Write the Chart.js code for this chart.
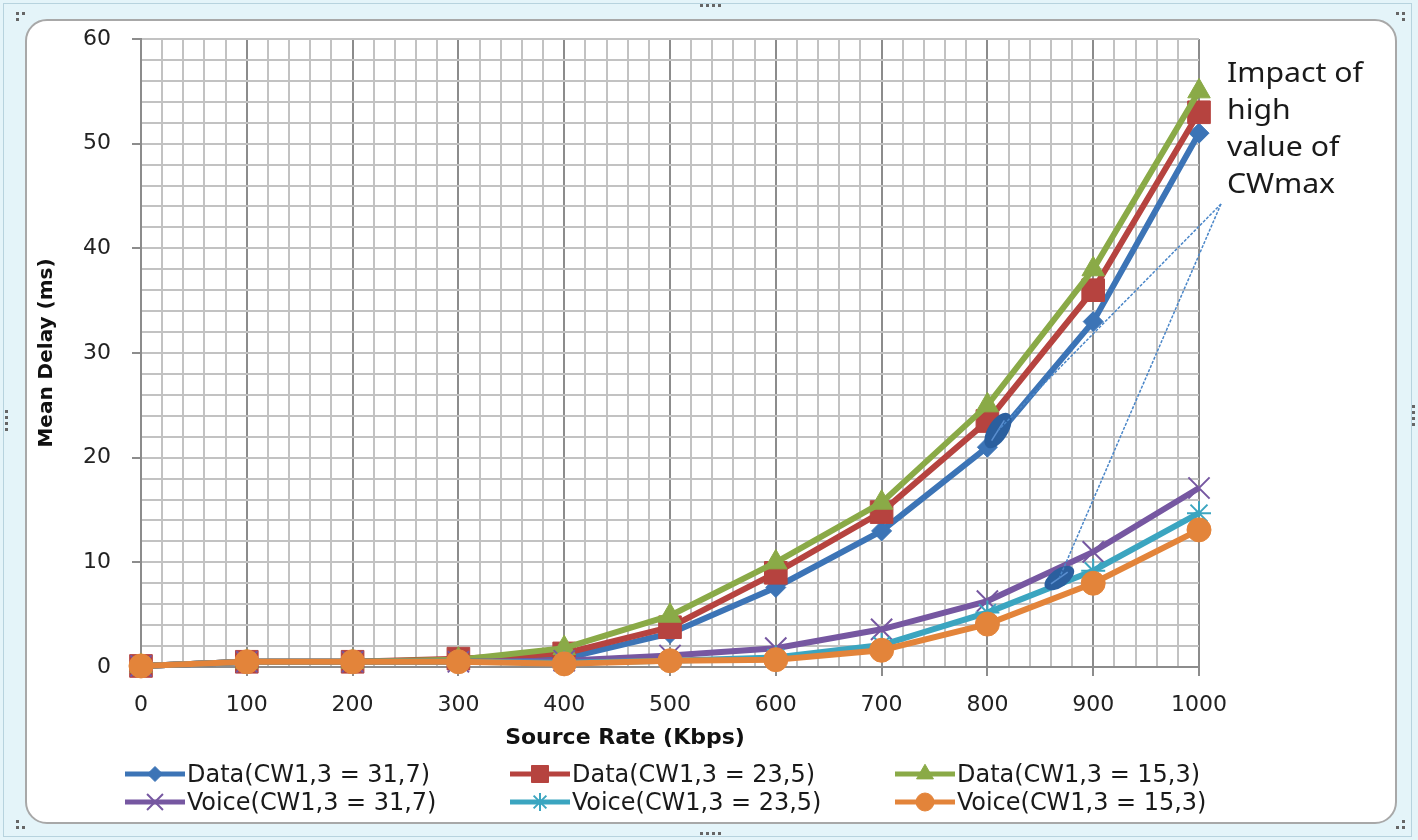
<!DOCTYPE html>
<html>
<head>
<meta charset="utf-8">
<script src="https://cdn.jsdelivr.net/npm/chart.js@4.4.1/dist/chart.umd.min.js"></script>
<style>
  html, body { margin: 0; padding: 0; width: 1418px; height: 840px; overflow: hidden; background: #e4f4f9; }
  .band { position: absolute; left: 3px; top: 3px; right: 6px; bottom: 3px; border: 1px solid #b7d3de; }
  .panel { position: absolute; left: 25px; top: 19px; width: 1368px; height: 801px;
           background: #fff; border: 2px solid #a8a8a8; border-radius: 22px; }
  .grip { position: absolute; width: 3px; height: 3px; background: #666; }
  canvas { position: absolute; left: 0; top: 0; }
</style>
</head>
<body>
<div class="band"></div>
<div class="panel"></div>
<div id="grips"></div>
<canvas id="chartDelay" width="1418" height="840"></canvas>
<script>
// Source rate (Kbps) on x, mean delay (ms) on y
const rates = [0, 100, 200, 300, 400, 500, 600, 700, 800, 900, 1000];
const dataCw31 = [0.1, 0.5, 0.5, 0.6, 0.8, 3.2, 7.6, 13.0, 21.0, 33.0, 51.0];
const dataCw23 = [0.1, 0.5, 0.5, 0.8, 1.3, 3.8, 9.0, 14.8, 23.5, 36.0, 53.0];
const dataCw15 = [0.1, 0.5, 0.5, 0.7, 1.8, 4.9, 10.0, 15.7, 25.0, 38.0, 55.0];
const voiceCw31 = [0.1, 0.5, 0.5, 0.5, 0.6, 1.1, 1.8, 3.6, 6.3, 11.0, 17.1];
const voiceCw23 = [0.1, 0.5, 0.5, 0.5, 0.4, 0.6, 0.9, 2.1, 5.2, 9.2, 14.7];
const voiceCw15 = [0.1, 0.5, 0.5, 0.5, 0.3, 0.6, 0.7, 1.6, 4.1, 8.0, 13.1];

const seriesLabels = ['Data(CW1,3 = 31,7)', 'Data(CW1,3 = 23,5)', 'Data(CW1,3 = 15,3)',
                      'Voice(CW1,3 = 31,7)', 'Voice(CW1,3 = 23,5)', 'Voice(CW1,3 = 15,3)'];
const xTickLabels = ['0', '100', '200', '300', '400', '500', '600', '700', '800', '900', '1000'];
const yTickLabels = ['0', '10', '20', '30', '40', '50', '60'];

// callout: marked spots in data units
const calloutText = ['Impact of', 'high', 'value of', 'CWmax'];
const calloutSpots = [{ x: 810, y: 22.6, rx: 20, ry: 10, rot: -58 }, { x: 868, y: 8.5, rx: 17, ry: 9, rot: -35 }];

const styles = [
    { color: '#3c74b6', point: 'rectRot', r: 10 },
    { color: '#b6433f', point: 'rect', r: 16 },
    { color: '#8aaa47', point: 'triangle', r: 13 },
    { color: '#7657a1', point: 'crossRot', r: 15 },
    { color: '#3ba5c0', point: 'star', r: 12 },
    { color: '#e3843a', point: 'circle', r: 12 }
];
const allSeries = [dataCw31, dataCw23, dataCw15, voiceCw31, voiceCw23, voiceCw15];

const datasets = allSeries.map((vals, i) => ({
    label: seriesLabels[i],
    data: rates.map((x, j) => ({ x: x, y: vals[j] })),
    borderColor: styles[i].color,
    backgroundColor: styles[i].color,
    borderWidth: 6,
    pointStyle: styles[i].point,
    pointRadius: styles[i].r,
    pointBorderWidth: (styles[i].point === 'crossRot' || styles[i].point === 'star') ? 2 : 1,
    pointBorderColor: styles[i].color,
    pointBackgroundColor: styles[i].color,
    tension: 0,
    clip: false,
    order: 6 - i
}));

// draw text squeezed/stretched horizontally to a given width
function fitText(ctx, text, x, y, scaleX) {
    ctx.save();
    ctx.translate(x, y);
    ctx.scale(scaleX, 1);
    ctx.fillText(text, 0, 0);
    ctx.restore();
}

const excelLook = {
    id: 'excelLook',
    afterDraw(chart) {
        const ctx = chart.ctx;
        const xs = chart.scales.x, ys = chart.scales.y;
        ctx.save();

        // axis titles
        ctx.fillStyle = '#111';
        ctx.font = 'bold 22px "DejaVu Sans"';
        ctx.textAlign = 'center';
        ctx.textBaseline = 'middle';
        ctx.fillText('Source Rate (Kbps)', 625, 738);
        ctx.save();
        ctx.translate(47, 353);
        ctx.rotate(-Math.PI / 2);
        ctx.font = 'bold 20px "DejaVu Sans"';
        ctx.fillText('Mean Delay (ms)', 0, 0);
        ctx.restore();

        // legend, 3 columns x 2 rows
        const colX = [125, 510, 895], rowY = [774, 802];
        ctx.font = '25px "Liberation Sans Narrow", "DejaVu Sans Condensed"';
        ctx.textAlign = 'left';
        const legScale = 243 / ctx.measureText(seriesLabels[0]).width;
        seriesLabels.forEach((lab, i) => {
            const x0 = colX[i % 3], y0 = rowY[Math.floor(i / 3)];
            const st = styles[i];
            ctx.strokeStyle = st.color;
            ctx.fillStyle = st.color;
            ctx.lineWidth = 5;
            ctx.beginPath();
            ctx.moveTo(x0, y0);
            ctx.lineTo(x0 + 60, y0);
            ctx.stroke();
            ctx.lineWidth = (st.point === 'crossRot' || st.point === 'star') ? 2 : 1;
            Chart.helpers.drawPoint(ctx, { pointStyle: st.point, radius: st.r * 0.75, rotation: 0, borderWidth: ctx.lineWidth }, x0 + 30, y0);
            ctx.fillStyle = '#1a1a1a';
            fitText(ctx, lab, x0 + 62, y0 + 1, legScale);
        });

        // callout marks and leader lines
        const apex = { x: 1221, y: 204 };
        calloutSpots.forEach(s => {
            const px = xs.getPixelForValue(s.x), py = ys.getPixelForValue(s.y);
            ctx.save();
            ctx.translate(px, py);
            ctx.rotate(s.rot * Math.PI / 180);
            ctx.fillStyle = '#2b5f9e';
            ctx.beginPath();
            ctx.ellipse(0, 0, s.rx, s.ry, 0, 0, Math.PI * 2);
            ctx.fill();
            ctx.strokeStyle = '#5b8fd0';
            ctx.lineWidth = 1.5;
            ctx.beginPath();
            ctx.moveTo(-s.rx * 0.6, 0);
            ctx.lineTo(s.rx * 0.6, 0);
            ctx.stroke();
            ctx.restore();
            ctx.strokeStyle = '#4a86c8';
            ctx.lineWidth = 1.5;
            ctx.setLineDash([3, 1.5]);
            ctx.beginPath();
            ctx.moveTo(apex.x, apex.y);
            ctx.lineTo(px, py);
            ctx.stroke();
            ctx.setLineDash([]);
        });
        ctx.fillStyle = '#1a1a1a';
        ctx.font = '28px "Noto Sans"';
        ctx.textAlign = 'left';
        const calScale = 136 / ctx.measureText(calloutText[0]).width;
        calloutText.forEach((t, i) => fitText(ctx, t, 1227, 74 + i * 37, calScale));
        ctx.restore();
    }
};

const isMajorX = v => v % 100 === 0;
const isMajorY = v => v % 10 === 0;

new Chart(document.getElementById('chartDelay').getContext('2d'), {
    type: 'line',
    data: { datasets: datasets },
    options: {
        responsive: false,
        animation: false,
        layout: { padding: { top: 39, right: 219, left: 0, bottom: 0 } },
        plugins: { legend: { display: false }, tooltip: { enabled: false } },
        scales: {
            x: {
                type: 'linear', min: 0, max: 1000,
                afterFit: s => { s.height = 173; },
                afterBuildTicks: s => { s.ticks = []; for (let v = 0; v <= 1000; v += 20) s.ticks.push({ value: v }); },
                border: { color: '#8c8c8c', width: 2 },
                grid: {
                    color: c => isMajorX(c.tick.value) ? '#8c8c8c' : '#c2c2c2',
                    lineWidth: 2,
                    tickLength: 9,
                    tickColor: c => isMajorX(c.tick.value) ? '#8c8c8c' : 'rgba(0,0,0,0)'
                },
                ticks: {
                    autoSkip: false, maxRotation: 0, padding: 16, color: '#222',
                    font: { family: 'DejaVu Sans', size: 22 },
                    callback: v => isMajorX(v) ? xTickLabels[v / 100] : ''
                }
            },
            y: {
                type: 'linear', min: 0, max: 60,
                afterFit: s => { s.width = 141; },
                afterBuildTicks: s => { s.ticks = []; for (let v = 0; v <= 60; v += 2) s.ticks.push({ value: v }); },
                border: { color: '#8c8c8c', width: 2 },
                grid: {
                    color: '#c2c2c2',
                    lineWidth: 2,
                    tickLength: 9,
                    tickColor: c => isMajorY(c.tick.value) ? '#8c8c8c' : 'rgba(0,0,0,0)'
                },
                ticks: {
                    autoSkip: false, padding: 21, color: '#222',
                    font: { family: 'DejaVu Sans', size: 22 },
                    callback: v => isMajorY(v) ? yTickLabels[v / 10] : ''
                }
            }
        }
    },
    plugins: [excelLook]
});

// selection grips of the chart frame
const gripSpots = [[700, 4], [706, 4], [712, 4], [718, 4], [700, 832], [706, 832], [712, 832], [718, 832],
                   [5, 410], [5, 416], [5, 422], [5, 428], [1412, 405], [1412, 411], [1412, 417], [1412, 423],
                   [16, 12], [22, 12], [16, 18], [1396, 12], [1402, 12], [1402, 18], [16, 826], [16, 820], [22, 826],
                   [1396, 826], [1402, 826], [1402, 820]];
const gripBox = document.getElementById('grips');
gripSpots.forEach(p => {
    const d = document.createElement('div');
    d.className = 'grip';
    d.style.left = p[0] + 'px';
    d.style.top = p[1] + 'px';
    gripBox.appendChild(d);
});
</script>
</body>
</html>
